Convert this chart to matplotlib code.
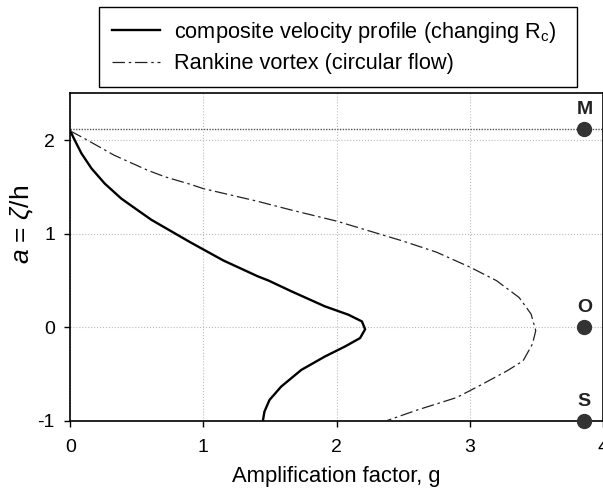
import numpy as np
import matplotlib
matplotlib.use("Agg")
import matplotlib.pyplot as plt

plt.rcParams["font.family"] = ["Liberation Sans", "DejaVu Sans"]
plt.rcParams["mathtext.fontset"] = "custom"
plt.rcParams["mathtext.rm"] = "Liberation Sans"
plt.rcParams["mathtext.it"] = "Liberation Sans:italic"
plt.rcParams["axes.unicode_minus"] = False

# composite velocity profile (changing Rc): depth a vs amplification g
comp_a = [2.10, 2.0, 1.86, 1.70, 1.537, 1.376, 1.25, 1.15, 0.911, 0.715,
          0.546, 0.50, 0.386, 0.225, 0.136, 0.064, -0.02, -0.114, -0.204,
          -0.311, -0.454, -0.632, -0.775, -0.90, -1.0]
comp_g = [0.0, 0.034, 0.084, 0.159, 0.259, 0.384, 0.509, 0.609, 0.90, 1.15,
          1.408, 1.49, 1.66, 1.912, 2.088, 2.19, 2.214, 2.176, 2.063,
          1.912, 1.735, 1.584, 1.496, 1.458, 1.446]

# Rankine vortex (circular flow)
rank_a = [2.10, 2.02, 1.84, 1.68, 1.61, 1.53, 1.483, 1.35, 1.258, 1.136, 1.029,
          0.922, 0.804, 0.645, 0.50, 0.32, 0.143, -0.035, -0.178, -0.357,
          -0.464, -0.625, -0.75, -0.885, -1.0]
rank_g = [0.0, 0.105, 0.33, 0.58, 0.71, 0.90, 1.0, 1.40, 1.65, 2.0, 2.25,
          2.5, 2.75, 3.0, 3.20, 3.37, 3.46, 3.495, 3.47, 3.40,
          3.28, 3.07, 2.90, 2.60, 2.37]

# reference levels
z_top = 2.12
pt_names = ["M", "O", "S"]
pt_a = [z_top, 0.0, -1.0]
pt_g = [3.86, 3.86, 3.86]

fig = plt.figure(figsize=(6.03, 4.91), dpi=100)
ax = fig.add_axes([0.1165, 0.1426, 0.8835, 0.667])

ax.grid(True, color="#bbbbbb", linestyle=":", linewidth=0.8)
ax.axhline(z_top, color="#555555", linestyle=(0, (1, 1)), linewidth=1.0, zorder=2)

ax.plot(comp_g, comp_a, color="black", linewidth=1.7,
        label="composite velocity profile (changing R$_\\mathrm{c}$)", zorder=3)
ax.plot(rank_g, rank_a, color="#222222", linewidth=0.9, dashes=(10, 3, 2, 3),
        label="Rankine vortex (circular flow)", zorder=3)

ax.plot(pt_g, pt_a, "o", color="#333333", markersize=10, clip_on=False, zorder=4)
for name, g, a in zip(pt_names, pt_g, pt_a):
    ax.text(g, a + 0.21, name, ha="center", va="center", fontsize=14,
            fontweight="bold", color="#222222")

ax.set_xlim(0, 4)
ax.set_ylim(-1, 2.5)
ax.set_xticks([0, 1, 2, 3, 4])
ax.set_yticks([-1, 0, 1, 2])
ax.tick_params(labelsize=14, length=4, width=1, direction="out")
ax.tick_params(axis="x", pad=9)
ax.tick_params(axis="y", pad=7)
for s in ax.spines.values():
    s.set_linewidth(1.2)

ax.set_xlabel("Amplification factor, g", fontsize=15.8, labelpad=7)
ax.set_ylabel("$a$ = $\\zeta$/h", fontsize=19)
ax.yaxis.set_label_coords(-0.064, 0.60)

fig.legend(loc="upper left", bbox_to_anchor=(0.164, 0.5, 0.793, 0.486),
           mode="expand", fontsize=15.7,
           frameon=True, fancybox=False, edgecolor="black", framealpha=1,
           handlelength=2.2, handletextpad=0.65, labelspacing=0.38,
           borderpad=0.6, borderaxespad=0)

fig.savefig("out.png", dpi=100)
